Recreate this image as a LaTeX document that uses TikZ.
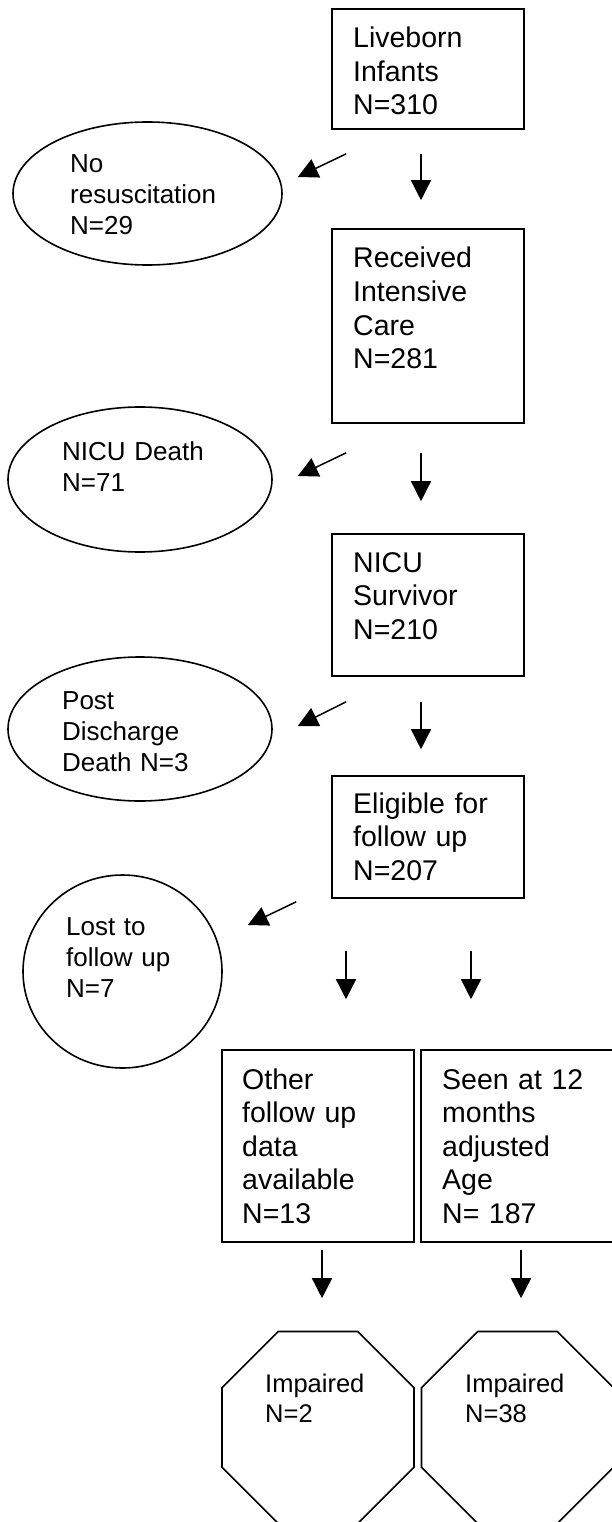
\documentclass[tikz,border=0pt]{standalone}
\usepackage{fontspec}
\setmainfont{Liberation Sans}
\usetikzlibrary{arrows.meta,shapes.geometric}

\begin{document}
\begin{tikzpicture}[x=1pt,y=-1pt]
\tikzstyle{box}=[rectangle,draw,line width=1.6pt,inner sep=0pt]
\tikzstyle{oval}=[ellipse,draw,line width=1.6pt,inner sep=0pt]
\tikzstyle{octa}=[regular polygon,regular polygon sides=8,draw,line width=1.6pt,inner sep=0pt,minimum size=207.8pt]
\tikzstyle{boxtxt}=[anchor=base west,inner sep=0pt,text width=170pt,align=left,font=\fontsize{28.5}{33.5}\selectfont]
\tikzstyle{ovaltxt}=[boxtxt,font=\fontsize{26}{31}\selectfont]
\tikzstyle{octatxt}=[boxtxt,font=\fontsize{25.5}{30}\selectfont]
\tikzstyle{arr}=[-{Triangle[length=20pt,width=20pt]},line width=1.5pt]
\useasboundingbox (0,0) rectangle (611,1522);
\node[box,minimum width=192pt,minimum height=120pt] (live) at (428,69) {};
\node[box,minimum width=192pt,minimum height=194pt] (icu) at (428,326) {};
\node[box,minimum width=192pt,minimum height=142pt] (surv) at (428,605) {};
\node[box,minimum width=192pt,minimum height=122pt] (elig) at (428,837) {};
\node[box,minimum width=192pt,minimum height=192pt] (other) at (318,1146) {};
\node[box,minimum width=193pt,minimum height=192pt] (seen) at (517.5,1146) {};
\node[oval,minimum width=269pt,minimum height=143pt] (norsc) at (147.5,193.5) {};
\node[oval,minimum width=264pt,minimum height=145pt] (death) at (140,479.5) {};
\node[oval,minimum width=264pt,minimum height=144pt] (post) at (140,729) {};
\node[oval,minimum width=199pt,minimum height=193pt] (lost) at (122.5,971.5) {};
\node[octa] (imp1) at (318,1427.5) {};
\node[octa] (imp2) at (517.5,1427.5) {};
\node[boxtxt] (livet) at (353,48) {Liveborn\\Infants\\N=310};
\node[boxtxt] (icut) at (353,268) {Received\\Intensive\\Care\\N=281};
\node[boxtxt] (survt) at (353,572) {NICU\\Survivor\\N=210};
\node[boxtxt] (eligt) at (353,813) {Eligible for\\follow up\\N=207};
\node[boxtxt] (othert) at (242,1089) {Other\\follow up\\data\\available\\N=13};
\node[boxtxt] (seent) at (442,1089) {Seen at 12\\months\\adjusted\\Age\\N= 187};
\node[ovaltxt] (norsct) at (70,173) {No\\resuscitation\\N=29};
\node[ovaltxt] (deatht) at (62,460) {NICU Death\\N=71};
\node[ovaltxt] (postt) at (62,709) {Post\\Discharge\\Death N=3};
\node[ovaltxt] (lostt) at (66,935) {Lost to\\follow up\\N=7};
\node[octatxt] (imp1t) at (265,1392) {Impaired\\N=2};
\node[octatxt] (imp2t) at (465,1392) {Impaired\\N=38};
\draw[arr,shorten <=24pt,shorten >=28pt] ([xshift=-7pt]live.south) -- ([xshift=-7pt]icu.north);
\draw[arr,shorten <=29pt,shorten >=32pt] ([xshift=-7pt]icu.south) -- ([xshift=-7pt]surv.north);
\draw[arr,shorten <=25pt,shorten >=26pt] ([xshift=-7pt]surv.south) -- ([xshift=-7pt]elig.north);
\draw[arr,shorten <=52pt,shorten >=50pt] ([xshift=-82pt]elig.south) -- ([xshift=28pt]other.north);
\draw[arr,shorten <=52pt,shorten >=50pt] ([xshift=43pt]elig.south) -- ([xshift=-46.5pt]seen.north);
\draw[arr,shorten <=7pt,shorten >=32.5pt] ([xshift=4pt]other.south) -- ([xshift=4pt]imp1.north);
\draw[arr,shorten <=7pt,shorten >=32.5pt] ([xshift=3.5pt]seen.south) -- ([xshift=3.5pt]imp2.north);
\draw[arr] ([shift={(15pt,-24pt)}]live.south west) -- ([shift={(15pt,16.5pt)}]norsc.east);
\draw[arr] ([shift={(15pt,-29pt)}]icu.south west) -- ([shift={(25pt,3.5pt)}]death.east);
\draw[arr] ([shift={(15pt,-25pt)}]surv.south west) -- ([shift={(25pt,3pt)}]post.east);
\draw[arr] ([shift={(-35pt,-3pt)}]elig.south west) -- ([shift={(25pt,46.5pt)}]lost.east);
\end{tikzpicture}
\end{document}
